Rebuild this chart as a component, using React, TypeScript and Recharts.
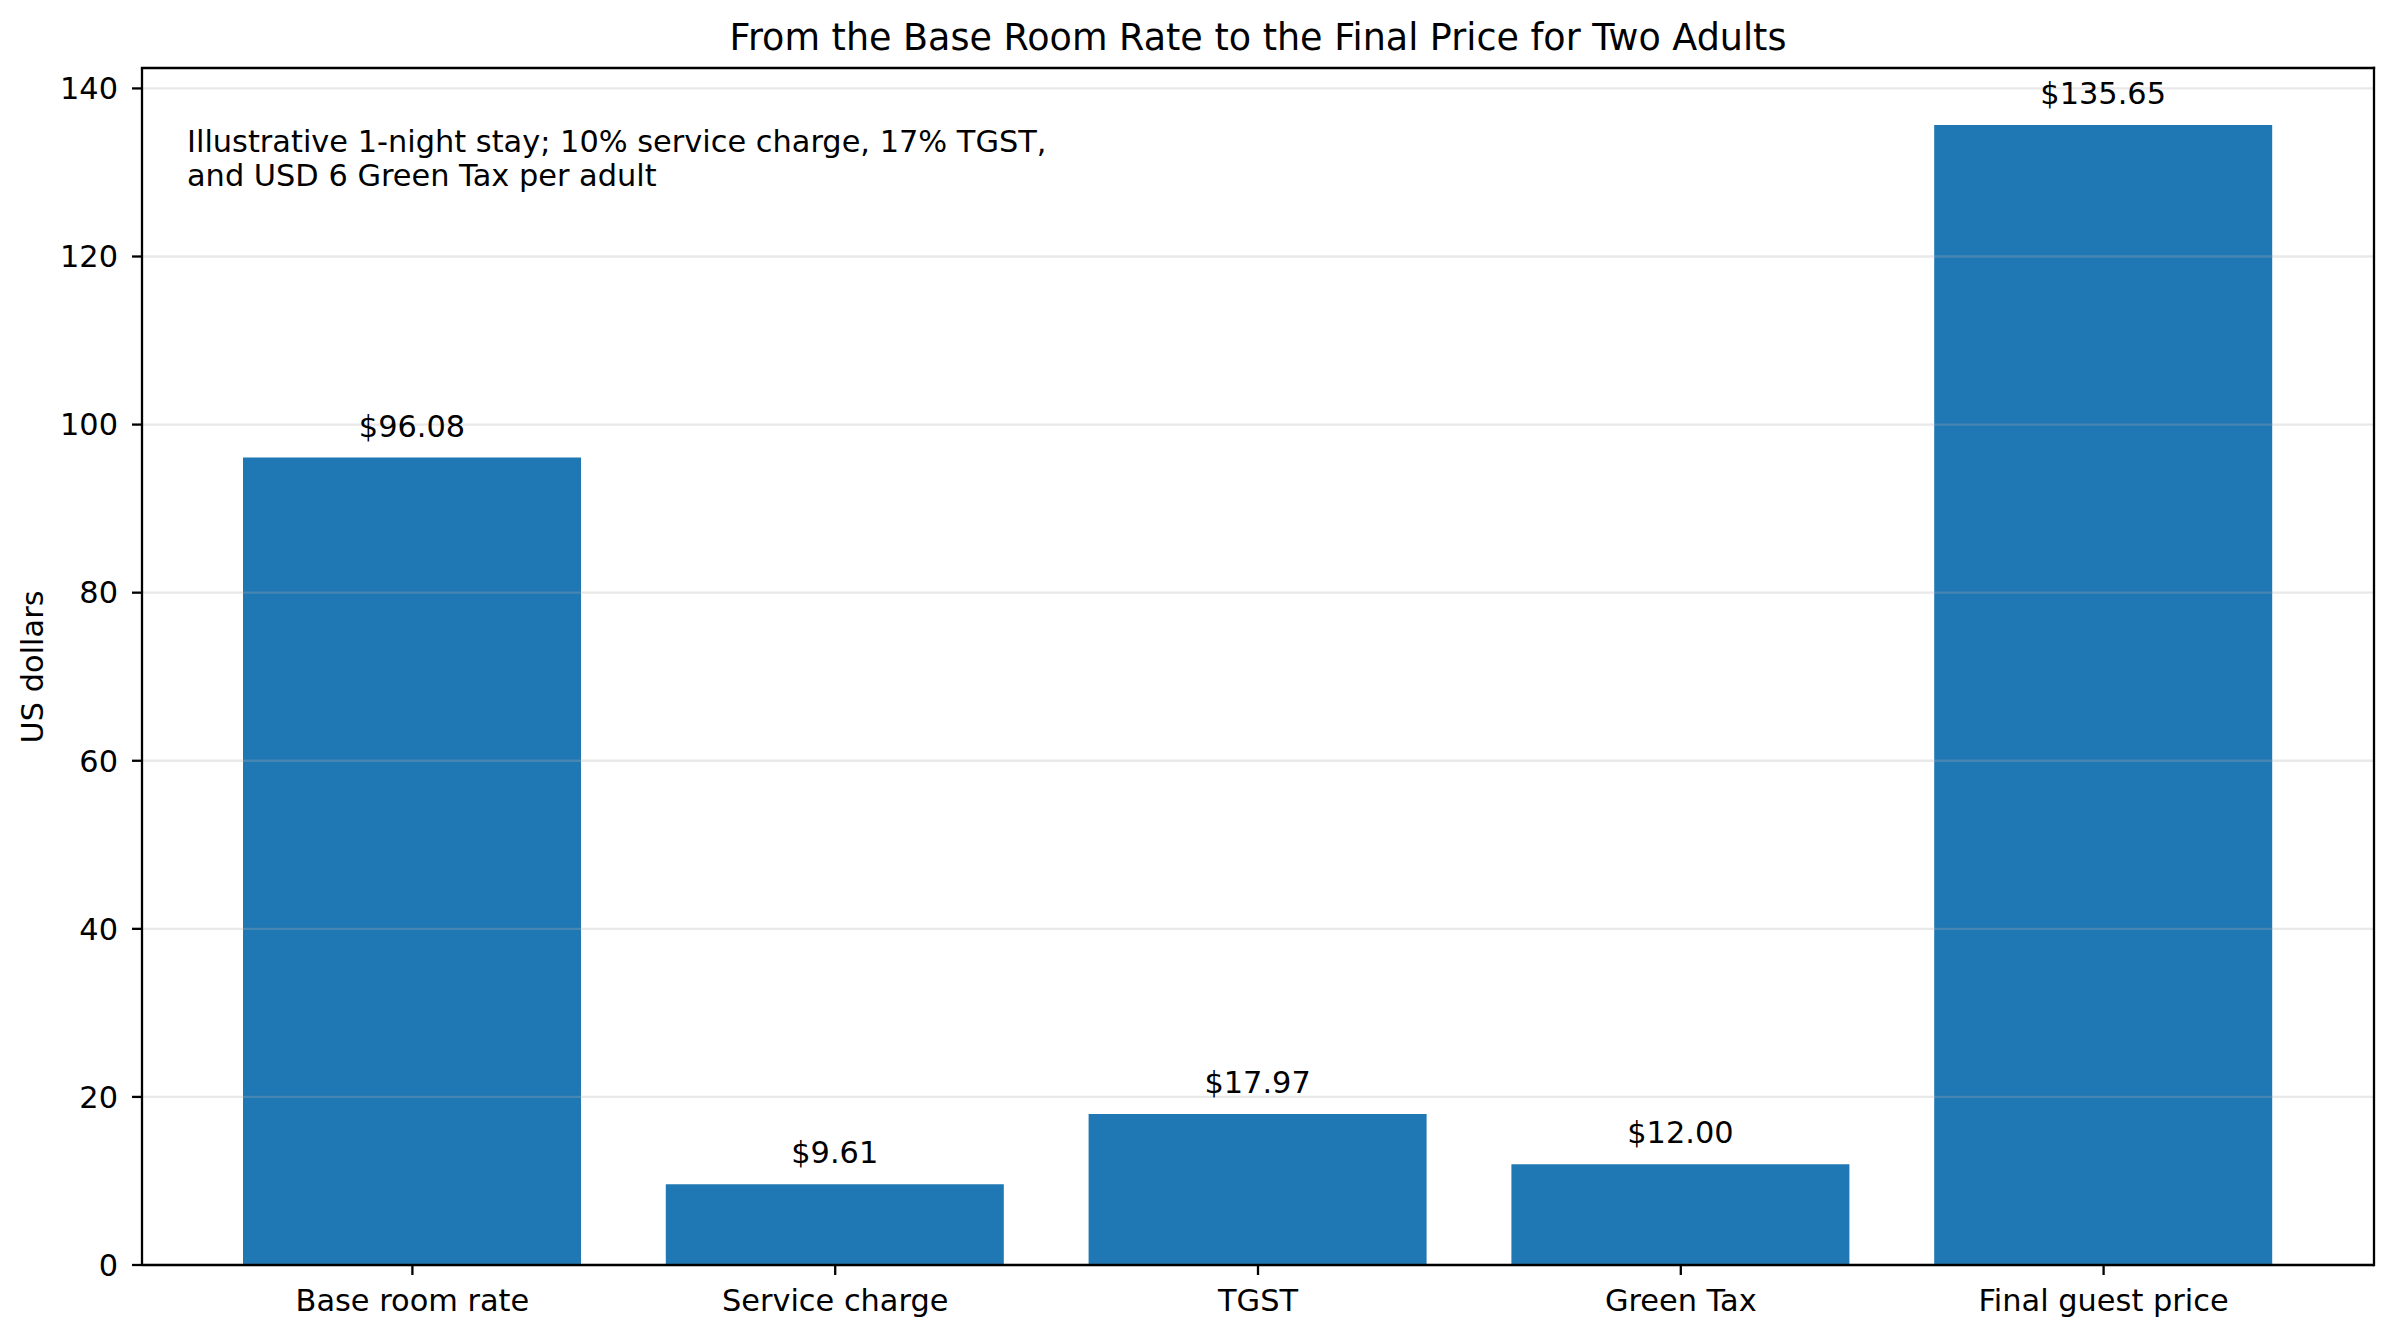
import React from 'react'
import { BarChart, Bar, XAxis, YAxis, ReferenceLine, LabelList } from 'recharts'

const categories = ['Base room rate', 'Service charge', 'TGST', 'Green Tax', 'Final guest price']
const amounts = [96.08, 9.61, 17.97, 12.0, 135.65]
const yTicks = [0, 20, 40, 60, 80, 100, 120, 140]
const yMax = 142.43

const data = categories.map((name, i) => ({ name, value: amounts[i] }))

const FONT = '"DejaVu Sans", sans-serif'
const FS = 30.4
const LW = 2.3

// plot frame (matches chart margins + axis sizes below)
const PLOT = { left: 142, top: 68, right: 2374, bottom: 1265 }

export default function App() {
  return (
    <div style={{ position: 'absolute', left: 0, top: 0, width: 2396, height: 1338, background: '#fff', fontFamily: FONT }}>
      <BarChart
        width={2396}
        height={1338}
        data={data}
        margin={{ top: PLOT.top, right: 2396 - PLOT.right, bottom: 0, left: 0 }}
        style={{ fontFamily: FONT }}
      >
        <XAxis
          dataKey="name"
          height={1338 - PLOT.bottom}
          padding={{ left: 59, right: 59 }}
          tickSize={10}
          tickMargin={14}
          tick={{ fill: '#000', fontSize: FS }}
          tickLine={{ stroke: '#000', strokeWidth: LW }}
          axisLine={{ stroke: '#000', strokeWidth: LW }}
          interval={0}
        />
        <YAxis
          width={PLOT.left}
          domain={[0, yMax]}
          ticks={yTicks}
          type="number"
          allowDataOverflow
          tickSize={10}
          tickMargin={14}
          tick={{ fill: '#000', fontSize: FS }}
          tickLine={{ stroke: '#000', strokeWidth: LW }}
          axisLine={{ stroke: '#000', strokeWidth: LW }}
        />
        <Bar dataKey="value" fill="#1f77b4" barSize={338} isAnimationActive={false}>
          <LabelList
            dataKey="value"
            position="top"
            offset={21}
            formatter={(v: any) => `$${Number(v).toFixed(2)}`}
            style={{ fill: '#000', fontSize: FS, fontFamily: FONT }}
          />
        </Bar>
        {yTicks.map((t) => (
          <ReferenceLine key={t} y={t} stroke="#b0b0b0" strokeOpacity={0.28} strokeWidth={LW} />
        ))}
      </BarChart>
      <svg
        width={2396}
        height={1338}
        style={{ position: 'absolute', left: 0, top: 0, pointerEvents: 'none' }}
        fontFamily={FONT}
      >
        <line x1={PLOT.left} y1={PLOT.top} x2={PLOT.right} y2={PLOT.top} stroke="#000" strokeWidth={LW} strokeLinecap="square" />
        <line x1={PLOT.right} y1={PLOT.top} x2={PLOT.right} y2={PLOT.bottom} stroke="#000" strokeWidth={LW} strokeLinecap="square" />
        <text x={1258} y={50} textAnchor="middle" fontSize={36.5} fill="#000">
          From the Base Room Rate to the Final Price for Two Adults
        </text>
        <text x={187} y={152} fontSize={FS} fill="#000">
          Illustrative 1-night stay; 10% service charge, 17% TGST,
        </text>
        <text x={187} y={186} fontSize={FS} fill="#000">
          and USD 6 Green Tax per adult
        </text>
        <text transform="translate(43,667) rotate(-90)" textAnchor="middle" fontSize={FS} fill="#000">
          US dollars
        </text>
      </svg>
    </div>
  )
}
